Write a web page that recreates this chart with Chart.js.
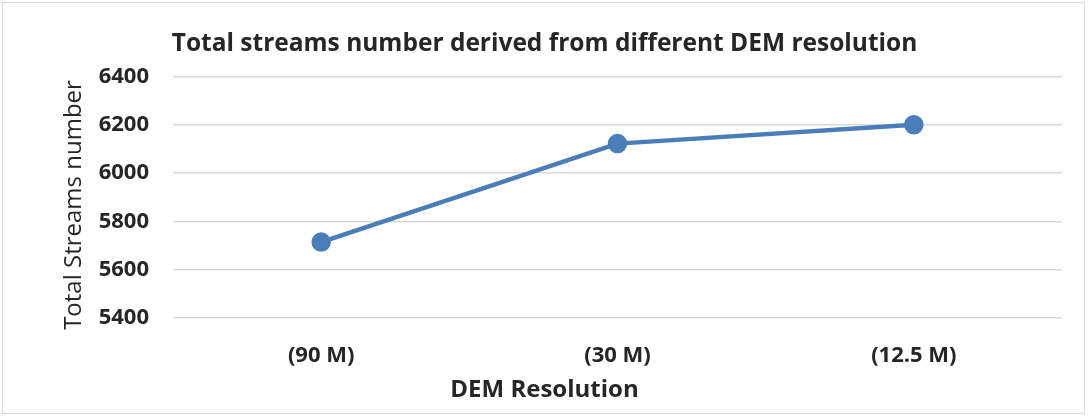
<!DOCTYPE html>
<html>
<head>
<meta charset="utf-8">
<script src="https://cdn.jsdelivr.net/npm/chart.js@4.4.1/dist/chart.umd.min.js"></script>
<style>
  html, body { margin: 0; padding: 0; background: #fff; }
  #wrap { position: absolute; left: 2px; top: 2px; width: 1083px; height: 412px;
          border: 1px solid #d9d9d9; box-sizing: border-box; }
  #c { position: absolute; left: -3px; top: -3px; }
</style>
</head>
<body>
<div id="wrap"><canvas id="c" width="1089" height="417"></canvas></div>
<script>
const categories = ['(90 M)', '(30 M)', '(12.5 M)'];
const streamCounts = [5715, 6122, 6200];
const yTicks = [5400, 5600, 5800, 6000, 6200, 6400];

const FONT = '"Open Sans", sans-serif';
const TEXT = '#262626';
const Y_TITLE = 'Total Streams number';

// Vertical axis caption, centred on the whole chart frame rather than the plot area
const yCaption = {
  id: 'yCaption',
  afterDraw(chart) {
    const ctx = chart.ctx;
    ctx.save();
    ctx.translate(81, 205);
    ctx.rotate(-Math.PI / 2);
    ctx.font = `24px ${FONT}`;
    ctx.fillStyle = TEXT;
    ctx.textAlign = 'center';
    ctx.textBaseline = 'alphabetic';
    ctx.fillText(Y_TITLE, 0, 0);
    ctx.restore();
  }
};

new Chart(document.getElementById('c'), {
  type: 'line',
  data: {
    labels: categories,
    datasets: [{
      data: streamCounts,
      borderColor: '#4a7ebb',
      backgroundColor: '#4a7ebb',
      borderWidth: 4.5,
      pointRadius: 7.5,
      pointHoverRadius: 7.5,
      tension: 0
    }]
  },
  options: {
    responsive: false,
    animation: false,
    layout: { padding: 0 },
    plugins: {
      legend: { display: false },
      tooltip: { enabled: false },
      title: {
        display: true,
        text: 'Total streams number derived from different DEM resolution',
        color: TEXT,
        font: { family: FONT, size: 24.5, weight: 'bold' },
        padding: { top: 29, bottom: 18 }
      },
      subtitle: {
        display: true,
        position: 'bottom',
        text: 'DEM Resolution',
        color: TEXT,
        font: { family: FONT, size: 24, weight: 'bold' },
        padding: { top: 0, bottom: 12 }
      }
    },
    scales: {
      x: {
        offset: true,
        grid: { display: false, drawTicks: false },
        border: { display: false },
        ticks: { color: TEXT, font: { family: FONT, size: 22, weight: 'bold' }, padding: 24 },
        afterFit: s => { s.height = 58; }
      },
      y: {
        min: 5400, max: 6400,
        afterBuildTicks: s => { s.ticks = yTicks.map(v => ({ value: v })); },
        grid: { color: '#d9d9d9', lineWidth: 1.5, drawTicks: false },
        border: { display: false },
        ticks: {
          color: TEXT, font: { family: FONT, size: 22, weight: 'bold' }, padding: 24,
          callback: v => String(v)
        },
        afterFit: s => { s.width = 173; }
      },
      // empty right-hand margin beside the plot
      yRight: {
        position: 'right',
        grid: { display: false, drawTicks: false },
        border: { display: false },
        ticks: { display: false },
        afterFit: s => { s.width = 27; }
      }
    }
  },
  plugins: [yCaption]
});
</script>
</body>
</html>
